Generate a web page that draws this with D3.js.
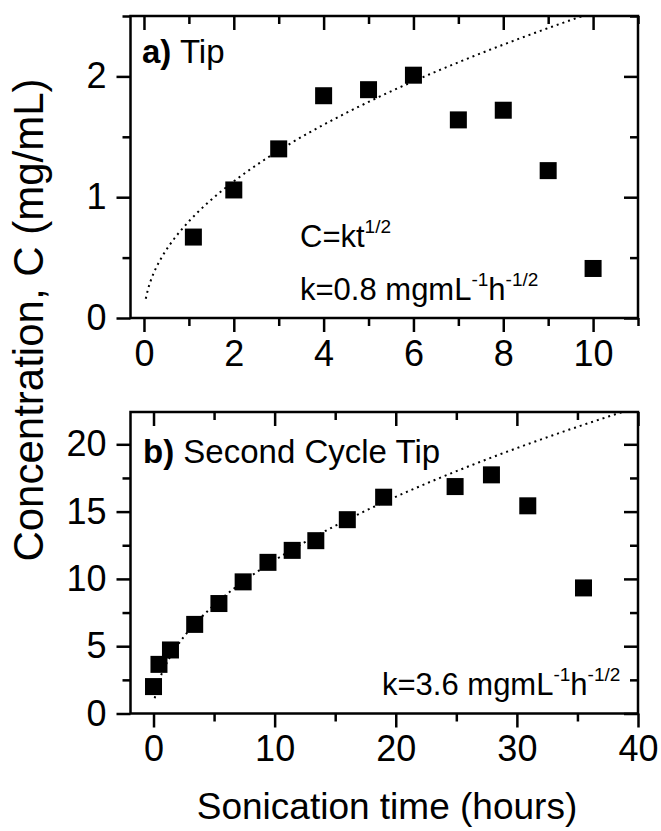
<!DOCTYPE html>
<html>
<head>
<meta charset="utf-8">
<script src="https://cdn.jsdelivr.net/npm/d3@7"></script>
<style>
  body { margin: 0; background: #fff; }
  svg { display: block; font-family: "Liberation Sans", Arial, sans-serif; }
</style>
</head>
<body>
<svg id="chart" width="661" height="831"></svg>
<script>
// panel a) tip sonication
const tipTime = [1.1, 2, 3, 4, 5, 6, 7, 8, 9, 10];
const tipConc = [0.67, 1.06, 1.40, 1.84, 1.89, 2.01, 1.64, 1.72, 1.22, 0.41];
const tipK = 0.8;
const tipXTicks = [0, 2, 4, 6, 8, 10];
const tipXMinor = [1, 3, 5, 7, 9, 11];
const tipYTicks = [0, 1, 2];
const tipYMinor = [0.5, 1.5, 2.5];

// panel b) second cycle tip
const cycleTime = [0, 0.45, 1.4, 3.4, 5.4, 7.4, 9.45, 11.45, 13.4, 16, 19, 24.9, 27.9, 30.9, 35.5];
const cycleConc = [2.0, 3.65, 4.72, 6.62, 8.17, 9.78, 11.23, 12.12, 12.84, 14.4, 16.07, 16.86, 17.73, 15.43, 9.33];
const cycleK = 3.6;
const cycleXTicks = [0, 10, 20, 30, 40];
const cycleXMinor = [5, 15, 25, 35];
const cycleYTicks = [0, 5, 10, 15, 20];
const cycleYMinor = [2.5, 7.5, 12.5, 17.5];

const svg = d3.select("#chart");
const left = 130.5, right = 638;
const majorLen = 14, minorLen = 8;
const font = '"Liberation Sans", Arial, sans-serif';

function panel(opt) {
  const x = d3.scaleLinear().domain(opt.xDomain).range([left, right]);
  const y = d3.scaleLinear().domain(opt.yDomain).range([opt.bottom, opt.top]);
  const g = svg.append("g");

  // ticks: outward on bottom/left, inward on top/right
  const ax = [
    [d3.axisBottom(x).tickValues(opt.xTicks).tickSize(majorLen).tickPadding(8), `translate(0,${opt.bottom})`, true],
    [d3.axisBottom(x).tickValues(opt.xMinor).tickSize(minorLen), `translate(0,${opt.bottom})`, false],
    [d3.axisTop(x).tickValues(opt.xTicks).tickSize(-majorLen), `translate(0,${opt.top})`, false],
    [d3.axisTop(x).tickValues(opt.xMinor).tickSize(-minorLen), `translate(0,${opt.top})`, false],
    [d3.axisLeft(y).tickValues(opt.yTicks).tickSize(majorLen).tickPadding(10), `translate(${left},0)`, true],
    [d3.axisLeft(y).tickValues(opt.yMinor).tickSize(minorLen), `translate(${left},0)`, false],
    [d3.axisRight(y).tickValues(opt.yTicks).tickSize(-majorLen), `translate(${right},0)`, false],
    [d3.axisRight(y).tickValues(opt.yMinor).tickSize(-minorLen), `translate(${right},0)`, false]
  ];
  ax.forEach(([a, tr, labels]) => {
    const s = g.append("g").attr("transform", tr)
      .call(a.tickFormat(labels ? d3.format("d") : ""))
      .attr("font-family", font).attr("font-size", 36);
    s.select(".domain").remove();
    s.selectAll(".tick line").attr("stroke", "#000").attr("stroke-width", 2.5);
    s.selectAll(".tick text").attr("fill", "#000");
  });

  g.append("rect")
    .attr("x", left).attr("y", opt.top)
    .attr("width", right - left).attr("height", opt.bottom - opt.top)
    .attr("fill", "none").attr("stroke", "#000").attr("stroke-width", 2.5);

  // fit C = k t^1/2, clipped to the frame
  const tMax = Math.min(opt.xDomain[1], Math.pow(opt.yDomain[1] / opt.k, 2));
  const ts = d3.range(opt.tMin, tMax, (tMax - opt.tMin) / 200).concat([tMax]);
  g.append("path")
    .datum(ts)
    .attr("d", d3.line().x(t => x(t)).y(t => y(opt.k * Math.sqrt(t))))
    .attr("fill", "none").attr("stroke", "#000")
    .attr("stroke-width", 2).attr("stroke-dasharray", "2,4");

  const sz = 17;
  g.selectAll(".pt")
    .data(opt.time.map((t, i) => [t, opt.conc[i]]))
    .join("rect")
    .attr("x", d => x(d[0]) - sz / 2)
    .attr("y", d => y(d[1]) - sz / 2)
    .attr("width", sz).attr("height", sz)
    .attr("fill", "#000");

  return { x, y, g };
}

const a = panel({
  xDomain: [-0.3, 11], yDomain: [0, 2.5], top: 16, bottom: 318,
  xTicks: tipXTicks, xMinor: tipXMinor, yTicks: tipYTicks, yMinor: tipYMinor,
  time: tipTime, conc: tipConc, k: tipK, tMin: 0.04
});

const b = panel({
  xDomain: [-1.9, 40], yDomain: [0, 22.4], top: 412, bottom: 713.5,
  xTicks: cycleXTicks, xMinor: cycleXMinor, yTicks: cycleYTicks, yMinor: cycleYMinor,
  time: cycleTime, conc: cycleConc, k: cycleK, tMin: 0.1
});

// panel labels
const la = a.g.append("text").attr("x", 142).attr("y", 63).attr("font-size", 33);
la.append("tspan").attr("font-weight", "bold").text("a)");
la.append("tspan").text(" Tip");

const lb = b.g.append("text").attr("x", 143).attr("y", 463).attr("font-size", 33);
lb.append("tspan").attr("font-weight", "bold").text("b)");
lb.append("tspan").text(" Second Cycle Tip");

function kLabel(g, xPos, yPos, kText) {
  const t = g.append("text").attr("x", xPos).attr("y", yPos).attr("font-size", 31);
  t.append("tspan").text("k=" + kText + " mgmL");
  t.append("tspan").attr("font-size", 19).attr("dy", -14).text("-1");
  t.append("tspan").attr("dy", 14).text("h");
  t.append("tspan").attr("font-size", 19).attr("dy", -14).text("-1/2");
}

const eq = a.g.append("text").attr("x", 300).attr("y", 247).attr("font-size", 31);
eq.append("tspan").text("C=kt");
eq.append("tspan").attr("font-size", 19).attr("dy", -14).text("1/2");

kLabel(a.g, 300, 300, "0.8");
kLabel(b.g, 382, 695, "3.6");

// axis titles
svg.append("text")
  .attr("transform", "translate(43,320) rotate(-90)")
  .attr("text-anchor", "middle").attr("font-size", 42)
  .text("Concentration, C (mg/mL)");

svg.append("text")
  .attr("x", 387).attr("y", 819)
  .attr("text-anchor", "middle").attr("font-size", 37)
  .text("Sonication time (hours)");
</script>
</body>
</html>
